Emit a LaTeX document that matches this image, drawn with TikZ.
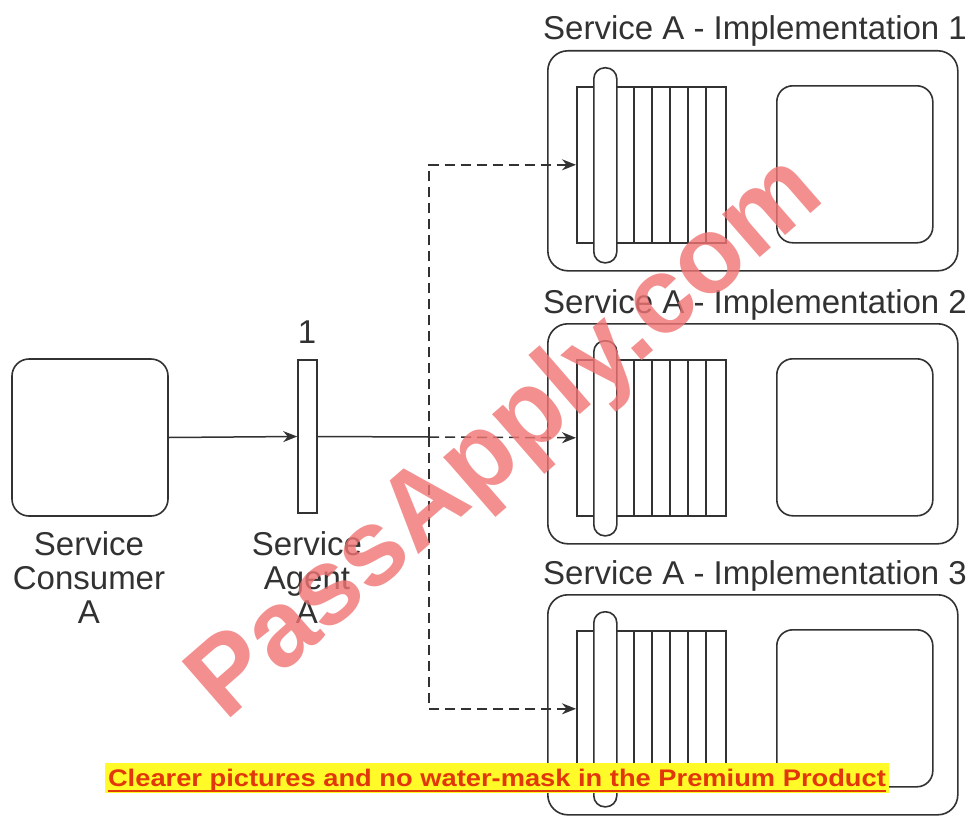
\documentclass[tikz,border=0pt]{standalone}
\usepackage{fontspec}
\setmainfont{Liberation Sans}
\usetikzlibrary{arrows.meta,calc}
\definecolor{ln}{RGB}{50,50,50}
\definecolor{wm}{RGB}{240,115,115}
\definecolor{bred}{RGB}{225,55,10}
\definecolor{byellow}{RGB}{255,250,40}
\begin{document}
\begin{tikzpicture}[x=1pt,y=-1pt,
  lbl/.style={font=\fontsize{33}{34}\selectfont, text=ln, align=center, inner sep=0},
  shapebox/.style={draw=ln, line width=1.6pt, inner sep=0, fill=white},
  plainline/.style={draw=ln, line width=1.5pt},
  conn/.style={plainline, -{Stealth[length=14pt,width=11pt]}},
  dconn/.style={conn, dash pattern=on 10pt off 6pt}
]
\useasboundingbox[fill=white] (0,0) rectangle (974,816);

% Service consumer
\node[shapebox, rounded corners=17pt, minimum width=156, minimum height=157] (cons) at (90,437.5) {};
\node[lbl, anchor=base] (consl) at (89,623) {Service\\Consumer\\A};

% Service agent
\node[shapebox, minimum width=19, minimum height=153] (agent) at (307.5,436.5) {};
\node[lbl, anchor=base] (agentnum) at (307,343) {1};
\node[lbl, anchor=base] (agentl) at (307,623) {Service\\Agent\\A};

% Implementations
\foreach \i/\t in {1/50,2/323,3/594}{
  \node[shapebox, rounded corners=20pt, minimum width=410, minimum height=220, anchor=north west] (impl\i) at (547,\t) {};
  \node[shapebox, minimum width=149, minimum height=156, anchor=north west] (stack\i) at (576,\t+36) {};
  \foreach \xx in {616,634,652,670,688,706}
    \draw[ln, line width=1.6pt] (\xx,\t+36) -- (\xx,\t+192);
  \node[shapebox, rounded corners=11pt, minimum width=23, minimum height=195, anchor=north west] (pill\i) at (593,\t+17) {};
  \node[shapebox, rounded corners=16pt, minimum width=156, minimum height=157, anchor=north west] (inner\i) at (776,\t+35) {};
  \node[lbl, anchor=base west] (title\i) at (543,\t-10) {Service A - Implementation \i};
}

% Connectors
\coordinate (j) at (429,437);
\draw[conn] (cons.east) -- (agent.west);
\draw[plainline] (agent.east) -- (j);
\draw[dconn] (j) -- (stack2.west);
\draw[dconn] (j) |- (stack1.west);
\draw[dconn] (j) |- (stack3.west);

% Watermark
\node[rotate=41, text=wm, opacity=0.8, inner sep=0,
  font=\bfseries\fontsize{108}{108}\selectfont] (wmark) at (508,440) {PassApply.com};

% Banner
\node[fill=byellow, minimum width=784, minimum height=30, inner sep=0] (banner) at (497,778) {};
\node[anchor=base, text=bred, inner sep=0, font=\bfseries\fontsize{24}{24}\selectfont] (bannertext) at (497,786)
  {\scalebox{1.137}[1]{Clearer pictures and no water-mask in the Premium Product}};
\draw[bred, line width=1.6pt] ($(bannertext.base west)+(0,5)$) -- ($(bannertext.base east)+(0,5)$);
\end{tikzpicture}
\end{document}
